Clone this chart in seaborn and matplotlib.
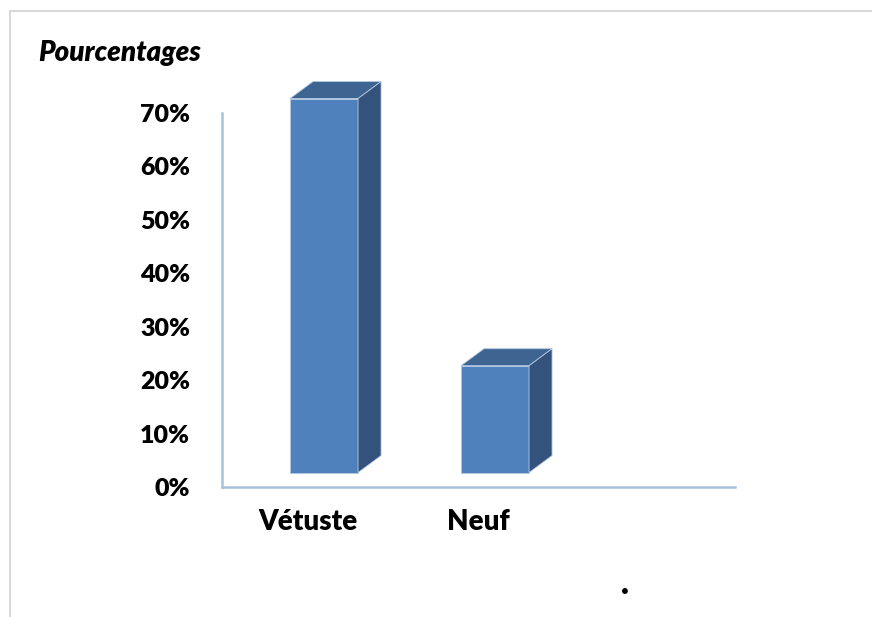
import matplotlib
matplotlib.use("Agg")
import matplotlib.pyplot as plt
from matplotlib.lines import Line2D
from matplotlib.patches import Polygon
from matplotlib.ticker import PercentFormatter
import seaborn as sns

# données
CATEGORIES = ["Vétuste", "Neuf"]
VALEURS = [0.70, 0.20]
Y_TICKS = [0.0, 0.1, 0.2, 0.3, 0.4, 0.5, 0.6, 0.7]

FRONT = "#4F81BD"
TOP = "#3E6592"
SIDE = "#33537C"
EDGE = "#B4C8E2"
AXE = "#A7C2DC"


def plot_bars() -> None:
    sns.set_style("white")
    plt.rcParams["font.family"] = ["Lato", "DejaVu Sans"]

    fig = plt.figure(figsize=(8.72, 6.17), dpi=100)
    ax = fig.add_axes([0.2546, 0.2107, 0.5883, 0.6062])

    sns.barplot(x=CATEGORIES, y=VALEURS, color=FRONT, saturation=1,
                width=0.398, ax=ax, edgecolor=EDGE, linewidth=0.6)

    ax.set_xlim(-0.5, 2.5)
    ax.set_ylim(0, 0.7)

    # pseudo-3D : décalage de profondeur en unités de données
    shift, lift = 0.0965, 0.027
    dx, dy = 0.1345, 0.0318
    for p in list(ax.patches):
        p.set_x(p.get_x() + shift)
        p.set_y(lift)
        p.set_clip_on(False)
        x0, x1 = p.get_x(), p.get_x() + p.get_width()
        y0, y1 = lift, lift + p.get_height()
        top = Polygon([(x0, y1), (x1, y1), (x1 + dx, y1 + dy), (x0 + dx, y1 + dy)],
                      closed=True, facecolor=TOP, edgecolor=EDGE, linewidth=0.6,
                      clip_on=False)
        side = Polygon([(x1, y0), (x1 + dx, y0 + dy), (x1 + dx, y1 + dy), (x1, y1)],
                       closed=True, facecolor=SIDE, edgecolor=EDGE, linewidth=0.6,
                       clip_on=False)
        ax.add_patch(top)
        ax.add_patch(side)

    for s in ["top", "right"]:
        ax.spines[s].set_visible(False)
    for s in ["left", "bottom"]:
        ax.spines[s].set_color(AXE)
        ax.spines[s].set_linewidth(1.8)

    ax.set_yticks(Y_TICKS)
    ax.yaxis.set_major_formatter(PercentFormatter(1.0, decimals=0))
    ax.set_xticks(range(len(CATEGORIES)))
    ax.set_xticklabels(CATEGORIES)
    ax.tick_params(axis="y", length=0, pad=23, labelsize=18, labelcolor="black")
    ax.tick_params(axis="x", length=0, pad=16, labelsize=20, labelcolor="black")
    for lab in ax.get_xticklabels() + ax.get_yticklabels():
        lab.set_fontweight("heavy")
    ax.set_xlabel("")
    ax.set_ylabel("")

    fig.text(38 / 872, 1 - 53 / 617, "Pourcentages", fontsize=20, color="black",
             fontweight="heavy", fontstyle="italic", ha="left", va="center")
    fig.text(625 / 872, 1 - 594 / 617, ".", fontsize=24, fontweight="heavy",
             color="black", ha="center", va="baseline")

    # cadre du graphique
    fig.add_artist(Line2D([10 / 872, 1], [1 - 11 / 617] * 2,
                          transform=fig.transFigure, color="#D9D9D9", lw=1.5))
    fig.add_artist(Line2D([10 / 872] * 2, [0, 1 - 11 / 617],
                          transform=fig.transFigure, color="#D9D9D9", lw=1.5))

    fig.savefig("out.png", dpi=100)


if __name__ == "__main__":
    plot_bars()
